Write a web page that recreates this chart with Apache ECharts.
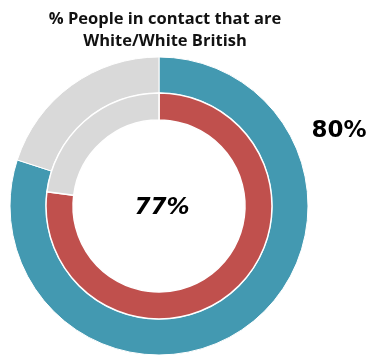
<!DOCTYPE html>
<html>
<head>
<meta charset="utf-8">
<script src="https://cdn.jsdelivr.net/npm/echarts@6/dist/echarts.min.js"></script>
<style>
  html, body { margin: 0; padding: 0; background: #fff; }
  #chart { width: 370px; height: 356px; }
</style>
</head>
<body>
<div id="chart"></div>
<script>
// outer ring: share of people in contact
const outerNames = ['White/White British', 'Other']
const outerValues = [80, 20]
// inner ring
const innerNames = ['White/White British', 'Other']
const innerValues = [77, 23]
const outerLabel = '80%'
const innerLabel = '77%'

const chart = echarts.init(document.getElementById('chart'))

const toData = (names, values, color) =>
  names.map((n, i) => ({
    name: n,
    value: values[i],
    itemStyle: { color: i === 0 ? color : '#d9d9d9' },
  }))

chart.setOption({
  animation: false,
  title: [
    {
      text: '% People in contact that are\nWhite/White British',
      left: 160,
      top: 3,
      textAlign: 'center',
      textStyle: {
        fontFamily: 'Open Sans',
        fontWeight: 'bold',
        fontSize: 16.5,
        lineHeight: 22,
        color: '#111',
      },
    },
    {
      text: outerLabel,
      left: 334,
      top: 115,
      textAlign: 'center',
      textStyle: { fontFamily: 'DejaVu Sans', fontWeight: 'bold', fontSize: 23, color: '#000' },
    },
    {
      text: innerLabel,
      left: 157,
      top: 192,
      textAlign: 'center',
      textStyle: { fontFamily: 'DejaVu Sans', fontWeight: 'bold', fontStyle: 'italic', fontSize: 23, color: '#000' },
    },
  ],
  series: [
    {
      type: 'pie',
      center: [159, 206],
      radius: [113, 149],
      startAngle: 90,
      clockwise: true,
      silent: true,
      label: { show: false },
      labelLine: { show: false },
      itemStyle: { borderColor: '#fff', borderWidth: 1 },
      data: toData(outerNames, outerValues, '#4399b1'),
    },
    {
      type: 'pie',
      center: [159, 206],
      radius: [86, 113],
      startAngle: 90,
      clockwise: true,
      silent: true,
      label: { show: false },
      labelLine: { show: false },
      itemStyle: { borderColor: '#fff', borderWidth: 1.5 },
      data: toData(innerNames, innerValues, '#c0504d'),
    },
  ],
})
</script>
</body>
</html>
